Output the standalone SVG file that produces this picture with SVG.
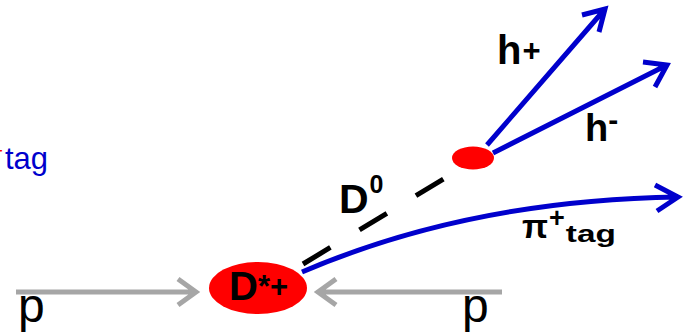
<svg xmlns="http://www.w3.org/2000/svg" width="688" height="334" viewBox="0 0 688 334">
<style>
.blue{fill:none;stroke:#0000cc;stroke-width:5;stroke-linecap:butt;stroke-linejoin:miter}
.gray{fill:none;stroke:#a6a6a6;stroke-width:5;stroke-linejoin:miter}
.dash{fill:none;stroke:#000;stroke-width:5;stroke-dasharray:32 34}
.lbl{font-family:"Liberation Sans",Arial,sans-serif;font-weight:bold;fill:#000}
.reg{font-family:"Liberation Sans",Arial,sans-serif;fill:#000}
</style>
<g id="connectors">
<path class="gray" d="M16,292 H196 M178,279 L196,292 L178,305"/>
<path class="gray" d="M502,292 H318 M336,279 L318,292 L336,305"/>
<path class="dash" d="M303,264 L470,163"/>
<path class="blue" d="M302,272 Q470,200 678,197 M655,185 L678,197 L657,211"/>
<path class="blue" d="M487,145 L605,9 M582,15 L605,9 L599,32"/>
<path class="blue" d="M493,153 L667,65 M643,62 L667,65 L655,87"/>
</g>
<g id="node-dstar">
<ellipse cx="258" cy="288" rx="49" ry="26" fill="#ff0000"/>
<text class="lbl" x="229" y="300" font-size="40">D<tspan font-size="31" dy="-3">*+</tspan></text>
</g>
<g id="node-d0">
<ellipse cx="473" cy="158" rx="21" ry="11.5" fill="#ff0000"/>
</g>
<g id="labels">
<text class="lbl" x="339" y="213" font-size="41">D<tspan class="reg" font-size="25" dy="-20" dx="1">0</tspan></text>
<text class="lbl" x="497" y="64" font-size="40">h<tspan font-size="31" dy="-3" dx="1">+</tspan></text>
<text class="lbl" x="585" y="141" font-size="38">h<tspan font-size="30" dy="-11">-</tspan></text>
<text class="lbl" x="522" y="238" font-size="34">π<tspan font-size="27" dy="-11" dx="1">+</tspan><tspan font-size="24" dx="1" dy="15" textLength="50" lengthAdjust="spacingAndGlyphs">tag</tspan></text>
<text class="reg" x="18" y="322" font-size="48">p</text>
<text class="reg" x="462" y="322" font-size="48">p</text>
<text x="5" y="169" font-family="Liberation Sans,Arial,sans-serif" font-size="32" fill="#0000cc" textLength="43" lengthAdjust="spacingAndGlyphs">tag</text>
<text x="3" y="158" font-family="Liberation Sans,Arial,sans-serif" font-size="22" fill="#ff0000" text-anchor="end">+</text>
</g>
</svg>
